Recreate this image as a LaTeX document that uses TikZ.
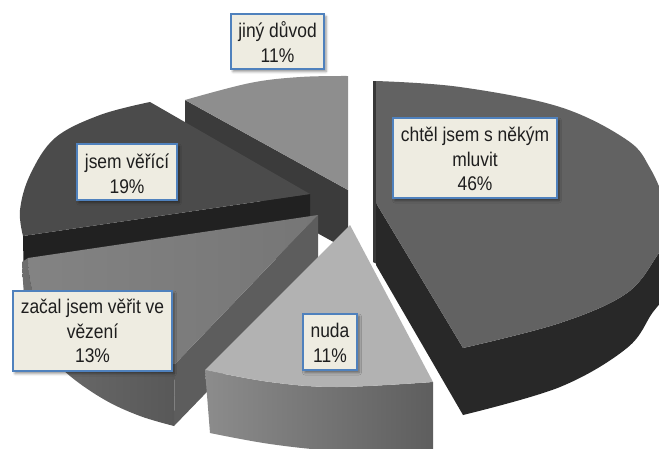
\documentclass[tikz,border=0pt]{standalone}
\usepackage{fontspec}
\setmainfont{Liberation Sans}[FakeStretch=0.88]
\usetikzlibrary{shadows.blur}
\definecolor{eTop}{HTML}{8E8E8E}
\definecolor{eSide}{HTML}{3B3B3B}
\definecolor{dTop}{HTML}{4B4B4B}
\definecolor{dSide}{HTML}{212121}
\definecolor{cTopL}{HTML}{838383}
\definecolor{cTopR}{HTML}{767676}
\definecolor{cSide}{HTML}{5D5D5D}
\definecolor{cOutL}{HTML}{6E6E6E}
\definecolor{cOutR}{HTML}{585858}
\definecolor{bTop}{HTML}{B2B2B2}
\definecolor{bSideL}{HTML}{8C8C8C}
\definecolor{bSideR}{HTML}{5E5E5E}
\definecolor{aTop}{HTML}{626262}
\definecolor{aSide}{HTML}{282828}
\definecolor{aStrip}{HTML}{383838}
\definecolor{boxFill}{HTML}{EEECE1}
\definecolor{boxLine}{HTML}{4F81BD}
\definecolor{txt}{HTML}{1E1E1E}
\begin{document}
\begin{tikzpicture}[x=1pt,y=-1pt,
  lbl/.style={draw=boxLine, line width=2pt, fill=boxFill, inner sep=0pt,
    blur shadow={shadow xshift=2pt, shadow yshift=-2.5pt, shadow blur radius=2.5pt, shadow opacity=45}},
  ln/.style={anchor=base, inner sep=0pt, text=txt, font=\fontsize{19.8}{25}\selectfont},
  smoothp/.style={smooth, tension=0.6}]
\useasboundingbox (0,0) rectangle (659,448);
\begin{scope}
\clip (0,0) rectangle (659,448);
% ---- slice E: jiny duvod (back) ----
\fill[eSide] (185,100) -- (348,190) -- (348,250) -- (185,160) -- cycle;
\fill[eTop] (348,190) -- (185,100) -- plot[smoothp] coordinates {(185,100) (250,83) (300,77) (348,76)} -- cycle;
% ---- slice D: jsem verici ----
\fill[dSide] (310,194) -- (23,236) -- (24,296) -- (310,254) -- cycle;
\fill[dTop] (310,194) -- (150,102) -- plot[smoothp] coordinates {(150,102) (100,115) (55,138) (30,175) (20,210) (23,236)} -- cycle;
% ---- slice C: zacal jsem verit ve vezeni ----
\fill[cSide] (318,215) -- (175,364) -- (174,426) -- (318,277) -- cycle;
\shade[left color=cOutL, right color=cOutR] plot[smoothp] coordinates {(28,258) (33,292) (55,322) (95,348) (140,361) (175,364)} -- (174,426) -- plot[smoothp] coordinates {(174,426) (140,416) (105,400) (70,376) (45,350) (30,322) (24,292) (22,262)} -- cycle;
\shade[left color=cTopL, right color=cTopR] (318,215) -- (28,258) -- plot[smoothp] coordinates {(28,258) (33,292) (55,322) (95,348) (140,361) (175,364)} -- cycle;
% ---- slice B: nuda ----
\shade[left color=bSideL, right color=bSideR] plot[smoothp] coordinates {(205,370) (270,382) (337,387) (433,382)} -- (433,455) -- plot[smoothp] coordinates {(433,455) (337,451) (270,444) (210,433)} -- cycle;
\fill[bTop] (350,225) -- (205,370) -- plot[smoothp] coordinates {(205,370) (270,382) (337,387) (433,382)} -- cycle;
% ---- slice A: chtel jsem s nekym mluvit ----
\fill[aStrip] (373,81) -- (377,81) -- (377,264) -- (373,262) -- cycle;
\fill[aSide] (376,203) -- (463,348) -- (463,415) -- (376,265) -- cycle;
\fill[aSide] plot[smoothp] coordinates {(463,348) (560,323) (627,293) (659,253) (672,235)} -- (672,290) -- plot[smoothp] coordinates {(672,290) (653,312) (627,348) (560,387) (463,415)} -- cycle;
\fill[aTop] (376,203) -- (376,81) -- plot[smoothp] coordinates {(376,81) (460,87) (560,107) (627,140) (650,168) (666,205) (672,235)} -- plot[smoothp] coordinates {(672,235) (659,253) (627,293) (560,323) (463,348)} -- cycle;
\end{scope}
% ---- label boxes ----
\node[lbl, minimum width=93pt, minimum height=55pt] (bE) at (277.5,41.5) {};
\node[lbl, minimum width=164pt, minimum height=80pt] (bA) at (475,158) {};
\node[lbl, minimum width=100pt, minimum height=56pt] (bD) at (127,172) {};
\node[lbl, minimum width=159pt, minimum height=80pt] (bC) at (92.5,331) {};
\node[lbl, minimum width=54pt, minimum height=56pt] (bB) at (330,342) {};
% ---- label texts ----
\node[ln] (tE1) at (277.5,37.5) {jiný důvod};
\node[ln] (tE2) at (277.5,62) {11\%};
\node[ln] (tA1) at (475,141.5) {chtěl jsem s někým};
\node[ln] (tA2) at (475,166) {mluvit};
\node[ln] (tA3) at (475,190.5) {46\%};
\node[ln] (tD1) at (127,168.5) {jsem věřící};
\node[ln] (tD2) at (127,193) {19\%};
\node[ln] (tC1) at (92.5,313.5) {začal jsem věřit ve};
\node[ln] (tC2) at (92.5,338) {vězení};
\node[ln] (tC3) at (92.5,362.5) {13\%};
\node[ln] (tB1) at (330,337.5) {nuda};
\node[ln] (tB2) at (330,362) {11\%};
\end{tikzpicture}
\end{document}
